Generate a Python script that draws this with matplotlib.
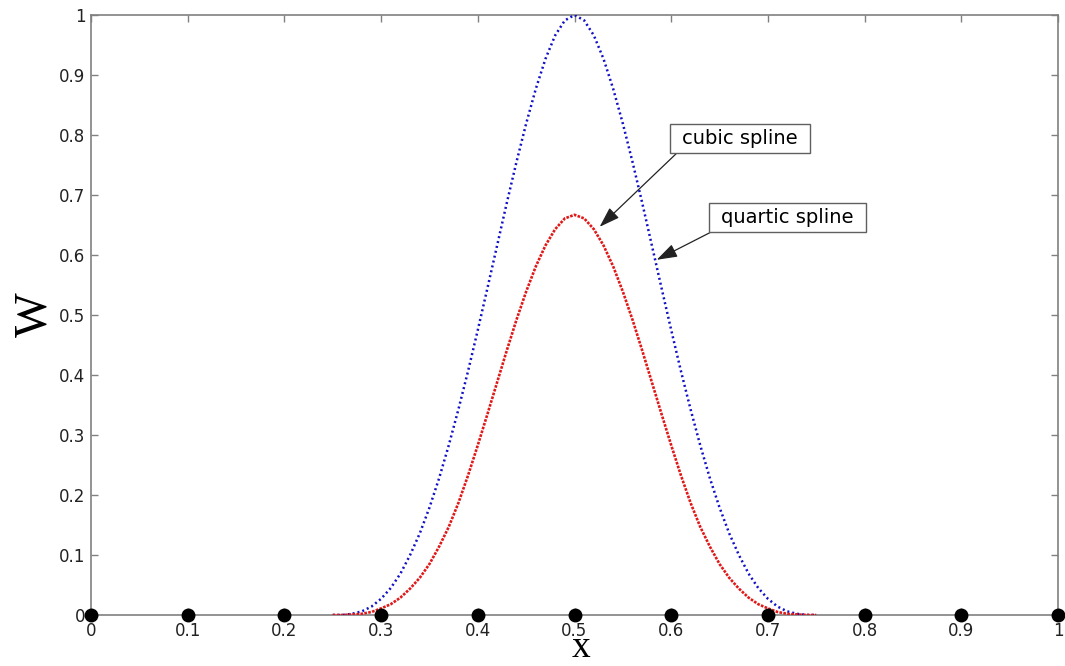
import numpy as np
import matplotlib
matplotlib.use('Agg')
import matplotlib.pyplot as plt

# sample positions of the two kernels (support 0.25 .. 0.75)
x = np.linspace(0.25, 0.75, 51)

# cubic spline (red), symmetric around 0.5
cubic_half = [0.000, 0.000, 0.001, 0.002, 0.005, 0.011, 0.018, 0.029, 0.044, 0.062,
              0.085, 0.114, 0.147, 0.187, 0.233, 0.283, 0.335, 0.388, 0.441, 0.492,
              0.539, 0.581, 0.616, 0.643, 0.661]
cubic_peak = [0.667]
# quartic spline (blue)
quartic_half = [0.000, 0.000, 0.002, 0.006, 0.014, 0.027, 0.045, 0.069, 0.100, 0.136,
                0.179, 0.228, 0.283, 0.343, 0.407, 0.475, 0.545, 0.616, 0.687, 0.755,
                0.819, 0.877, 0.927, 0.966, 0.991]
quartic_peak = [1.000]

cubic = cubic_half + cubic_peak + cubic_half[::-1]
quartic = quartic_half + quartic_peak + quartic_half[::-1]

# particle positions on the axis
particles_x = [0, 0.1, 0.2, 0.3, 0.4, 0.5, 0.6, 0.7, 0.8, 0.9, 1.0]
particles_y = [0] * len(particles_x)

ticks_x = [0, 0.1, 0.2, 0.3, 0.4, 0.5, 0.6, 0.7, 0.8, 0.9, 1]
ticks_y = [0, 0.1, 0.2, 0.3, 0.4, 0.5, 0.6, 0.7, 0.8, 0.9, 1]
tick_labels_x = ['0', '0.1', '0.2', '0.3', '0.4', '0.5', '0.6', '0.7', '0.8', '0.9', '1']
tick_labels_y = ['0', '0.1', '0.2', '0.3', '0.4', '0.5', '0.6', '0.7', '0.8', '0.9', '1']

plt.rcParams['font.family'] = ['DejaVu Sans']

fig = plt.figure(figsize=(10.65, 6.66), dpi=100)
ax = fig.add_axes([91 / 1065, 51 / 666, 967 / 1065, 600 / 666])

ax.plot(x, quartic, color='#1010c8', linestyle=(0, (0.8, 1.2)), linewidth=1.8, zorder=3)
ax.plot(x, cubic, color='#e01818', linestyle=(0, (1.0, 0.5)), linewidth=1.9, zorder=3)
ax.plot(particles_x, particles_y, 'o', color='black', markersize=9, zorder=5,
        clip_on=False)

ax.set_xlim(0, 1)
ax.set_ylim(0, 1)
ax.set_xticks(ticks_x)
ax.set_xticklabels(tick_labels_x)
ax.set_yticks(ticks_y)
ax.set_yticklabels(tick_labels_y)
ax.tick_params(direction='in', length=5, width=1, color='#808080', labelsize=12,
               labelcolor='#222222', top=True, right=True)
ax.tick_params(axis='x', pad=5)
ax.tick_params(axis='y', pad=4)
for s in ax.spines.values():
    s.set_color('#808080')
    s.set_linewidth(1.2)

ax.set_ylabel('W', fontsize=34, family=['Liberation Serif'], labelpad=2)
ax.set_xlabel('x', fontsize=27, family=['Liberation Serif'])
ax.xaxis.label.set_va('baseline')
ax.xaxis.set_label_coords(0.507, -0.070)

box = dict(boxstyle='square,pad=0.62', facecolor='white', edgecolor='#606060',
           linewidth=1, mutation_aspect=0.42)
arrow = dict(arrowstyle='-|>,head_length=0.9,head_width=0.3', color='#222222',
             linewidth=0.9, relpos=(0, 0), shrinkA=0, shrinkB=0)
ax.annotate('cubic spline', xy=(0.526, 0.647), xytext=(0.671, 0.794),
            fontsize=14, ha='center', va='center', bbox=box, arrowprops=arrow)
ax.annotate('quartic spline', xy=(0.585, 0.592), xytext=(0.720, 0.6625),
            fontsize=14, ha='center', va='center', bbox=box, arrowprops=arrow)

fig.savefig('out.png', dpi=100)
